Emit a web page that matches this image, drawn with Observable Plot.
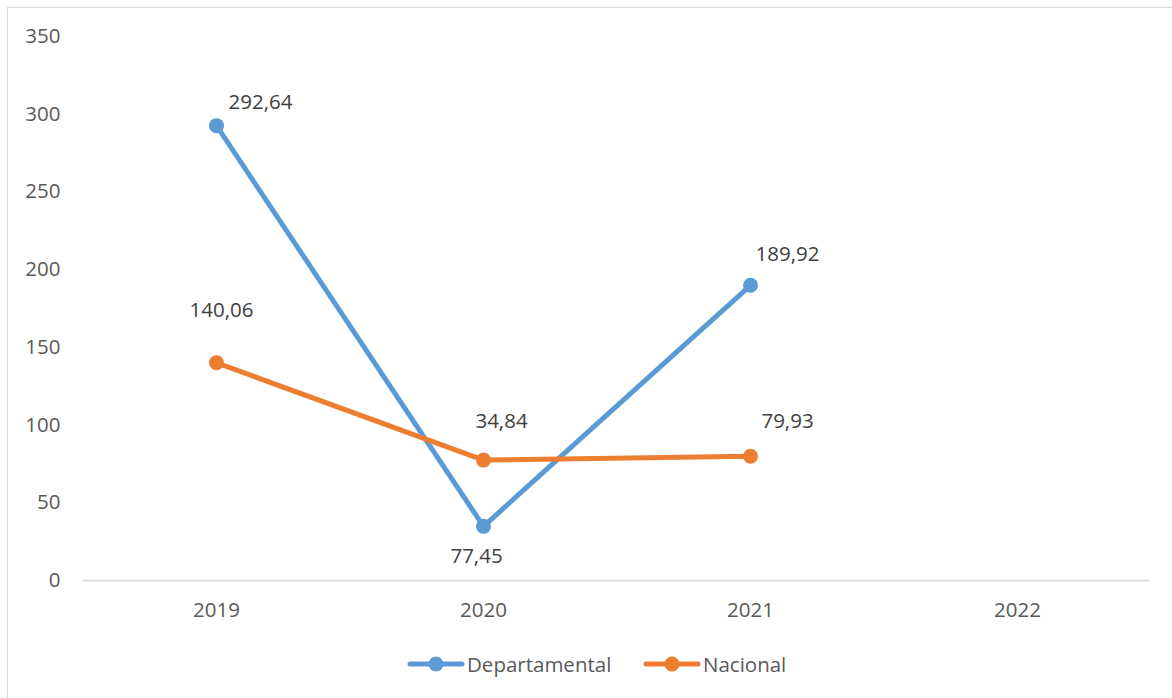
<!DOCTYPE html>
<html>
<head>
<meta charset="utf-8">
<script src="https://cdn.jsdelivr.net/npm/d3@7"></script>
<script src="https://cdn.jsdelivr.net/npm/@observablehq/plot@0.6"></script>
<style>
  html, body { margin: 0; padding: 0; background: #fff; }
  #wrap { position: relative; width: 1172px; height: 698px; overflow: hidden; font-family: "Open Sans", sans-serif; }
  #frame { position: absolute; left: 7px; top: 7px; width: 1180px; height: 720px; border: 1.5px solid #d9d9d9; box-sizing: border-box; }
  #chart { position: absolute; left: 0; top: 0; }
  #legend { position: absolute; top: 650px; left: 0; width: 1172px; height: 28px; }
  .lg { position: absolute; display: flex; align-items: center; font-size: 20.5px; color: #595959; }
</style>
</head>
<body>
<div id="wrap">
  <div id="frame"></div>
  <div id="chart"></div>
  <div id="legend"></div>
</div>
<script>
// ---- data ----
const years = ["2019", "2020", "2021", "2022"];
const seriesNames = ["Departamental", "Nacional"];
const departamental = [292.64, 34.84, 189.92];
const nacional = [140.06, 77.45, 79.93];
const departamentalLabels = ["292,64", "77,45", "189,92"];
const nacionalLabels = ["140,06", "34,84", "79,93"];
const yTicks = [0, 50, 100, 150, 200, 250, 300, 350];

// ---- styling ----
const colors = {Departamental: "#5B9BD5", Nacional: "#ED7D31"};
const labelOffsets = {
  Departamental: [[44, -23], [-7, 30], [37, -31]],
  Nacional: [[5, -52], [18, -39], [37, -35]]
};

const rows = [];
departamental.forEach((v, i) => rows.push({series: "Departamental", year: years[i], value: v, label: departamentalLabels[i], i}));
nacional.forEach((v, i) => rows.push({series: "Nacional", year: years[i], value: v, label: nacionalLabels[i], i}));

const labelMarks = rows.map(r => Plot.text([r], {
  x: "year", y: "value", text: "label",
  dx: labelOffsets[r.series][r.i][0], dy: labelOffsets[r.series][r.i][1],
  fill: "#404040", fontSize: 20.5, textAnchor: "middle", lineAnchor: "middle"
}));

const chart = Plot.plot({
  width: 1172,
  height: 640,
  marginLeft: 82,
  marginRight: 22,
  marginTop: 36,
  marginBottom: 60,
  style: {fontFamily: "Open Sans, sans-serif", background: "transparent", overflow: "visible"},
  x: {type: "point", domain: years, padding: 0.5, label: null},
  y: {domain: [0, 350], label: null},
  marks: [
    Plot.axisY({ticks: yTicks, tickSize: 0, tickPadding: 22, fontSize: 20.5, color: "#595959", label: null}),
    Plot.axisX({tickSize: 0, tickPadding: 22, fontSize: 20.5, color: "#595959", label: null}),
    Plot.ruleY([0], {stroke: "#d9d9d9", strokeWidth: 1.5}),
    Plot.line(rows, {x: "year", y: "value", z: "series", stroke: d => colors[d.series], strokeWidth: 5, strokeLinecap: "round", strokeLinejoin: "round"}),
    Plot.dot(rows, {x: "year", y: "value", r: 7.5, fill: d => colors[d.series], stroke: "none"}),
    ...labelMarks
  ]
});
document.getElementById("chart").appendChild(chart);

// ---- legend ----
const legend = document.getElementById("legend");
const legendX = {Departamental: 407, Nacional: 643};
seriesNames.forEach(name => {
  const item = document.createElement("div");
  item.className = "lg";
  item.style.left = legendX[name] + "px";
  item.style.top = "0px";
  item.innerHTML = `<svg width="58" height="28" style="margin-right:2px"><line x1="3" y1="14" x2="55" y2="14" stroke="${colors[name]}" stroke-width="5" stroke-linecap="round"/><circle cx="29" cy="14" r="7.5" fill="${colors[name]}"/></svg><span>${name}</span>`;
  legend.appendChild(item);
});
</script>
</body>
</html>
